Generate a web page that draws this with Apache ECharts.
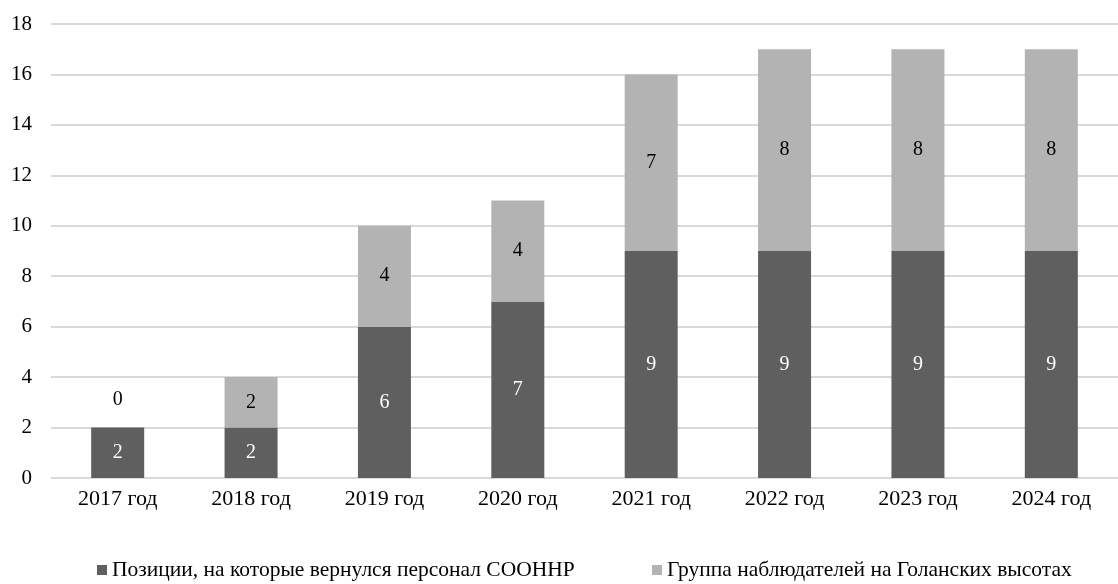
<!DOCTYPE html>
<html>
<head>
<meta charset="utf-8">
<script src="https://cdn.jsdelivr.net/npm/echarts@6/dist/echarts.min.js"></script>
<style>html,body{margin:0;padding:0;background:#fff}#c{width:1118px;height:584px}</style>
</head>
<body>
<div id="c"></div>
<script>
const categories = ['2017 год','2018 год','2019 год','2020 год','2021 год','2022 год','2023 год','2024 год'];
const seriesNames = ['Позиции, на которые вернулся персонал СООННР','Группа наблюдателей на Голанских высотах'];
const returnedPositions = [2,2,6,7,9,9,9,9];
const observerGroup = [0,2,4,4,7,8,8,8];
const yTicks = [0,2,4,6,8,10,12,14,16,18];

const FONT = 'Liberation Serif';
const chart = echarts.init(document.getElementById('c'));
const lightData = observerGroup.map(v => v === 0
  ? {value: v, label: {position: 'top', distance: 18}}
  : v);
chart.setOption({
  animation: false,
  backgroundColor: '#fff',
  textStyle: {fontFamily: FONT},
  grid: {left: 51, top: 24, width: 1080, height: 454, containLabel: false},
  legend: [
    {data: [seriesNames[0]], left: 97, top: 559, padding: 0, itemWidth: 10, itemHeight: 10, icon: 'rect',
     textStyle: {fontFamily: FONT, fontSize: 21.5, color: '#000'}},
    {data: [seriesNames[1]], left: 652, top: 559, padding: 0, itemWidth: 10, itemHeight: 10, icon: 'rect',
     textStyle: {fontFamily: FONT, fontSize: 21.5, color: '#000'}}
  ],
  xAxis: {
    type: 'category', data: categories,
    axisLine: {show: false}, axisTick: {show: false},
    axisLabel: {color: '#000', fontFamily: FONT, fontSize: 22, margin: 10}
  },
  yAxis: {
    type: 'value', min: yTicks[0], max: yTicks[yTicks.length-1], interval: 2,
    axisLine: {show: false}, axisTick: {show: false},
    axisLabel: {color: '#000', fontFamily: FONT, fontSize: 21, margin: 19},
    splitLine: {lineStyle: {color: '#d9d9d9', width: 2}}
  },
  series: [
    {name: seriesNames[0], type: 'bar', stack: 's', data: returnedPositions, barWidth: 53,
     itemStyle: {color: '#5f5f5f'},
     label: {show: true, position: 'inside', color: '#fff', fontFamily: FONT, fontSize: 20}},
    {name: seriesNames[1], type: 'bar', stack: 's', data: lightData, barWidth: 53,
     itemStyle: {color: '#b3b3b3'},
     label: {show: true, position: 'inside', color: '#000', fontFamily: FONT, fontSize: 20}}
  ]
});
</script>
</body>
</html>
